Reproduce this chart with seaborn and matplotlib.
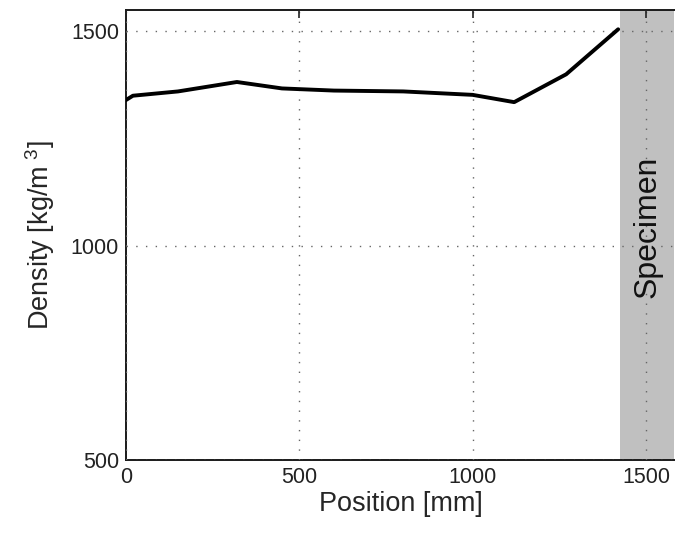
import matplotlib
matplotlib.use("Agg")
import matplotlib.pyplot as plt
import seaborn as sns
import pandas as pd

position = [0, 20, 150, 320, 450, 600, 800, 1000, 1120, 1270, 1420]
density = [1340, 1350, 1360, 1382, 1367, 1362, 1360, 1352, 1335, 1400, 1505]
xticks = [0, 500, 1000, 1500]
yticks = [500, 1000, 1500]
specimen_span = [1425, 1580]

sns.set_theme(style="white")
plt.rcParams['font.family'] = ['Liberation Sans', 'DejaVu Sans']
plt.rcParams['mathtext.default'] = 'regular'

df = pd.DataFrame({"Position": position, "Density": density})

fig = plt.figure(figsize=(6.75, 5.35), dpi=100)
ax = fig.add_axes([126/675, 75/535, (675-126)/675, 450/535])

ax.axvspan(specimen_span[0], specimen_span[1], color="#c0c0c0", lw=0, zorder=0)
sns.lineplot(data=df, x="Position", y="Density", ax=ax, color="black", lw=2.8,
             zorder=3)

ax.set_xlim(0, 1584)
ax.set_ylim(500, 1550)
ax.set_xticks(xticks)
ax.set_yticks(yticks)
ax.grid(True, color="#666666", linestyle=(0, (1, 6)), lw=1.0)
ax.set_axisbelow(False)
for s in ["left", "bottom", "top"]:
    ax.spines[s].set_color("#1a1a1a")
    ax.spines[s].set_linewidth(1.4)
ax.spines["right"].set_visible(False)
ax.tick_params(direction="in", length=6, width=1.2, top=True, right=False,
               labelsize=15.5, colors="#222222", pad=5)
ax.set_xlabel("Position [mm]", fontsize=19.5, labelpad=2)
ax.set_ylabel(r"Density [kg/m$^{\ 3}$]", fontsize=19.5, labelpad=10)
ax.text(1506, 1044, "Specimen", rotation=90, fontsize=23, ha="center",
        va="center", color="#111111")

fig.savefig("out.png", dpi=100)
